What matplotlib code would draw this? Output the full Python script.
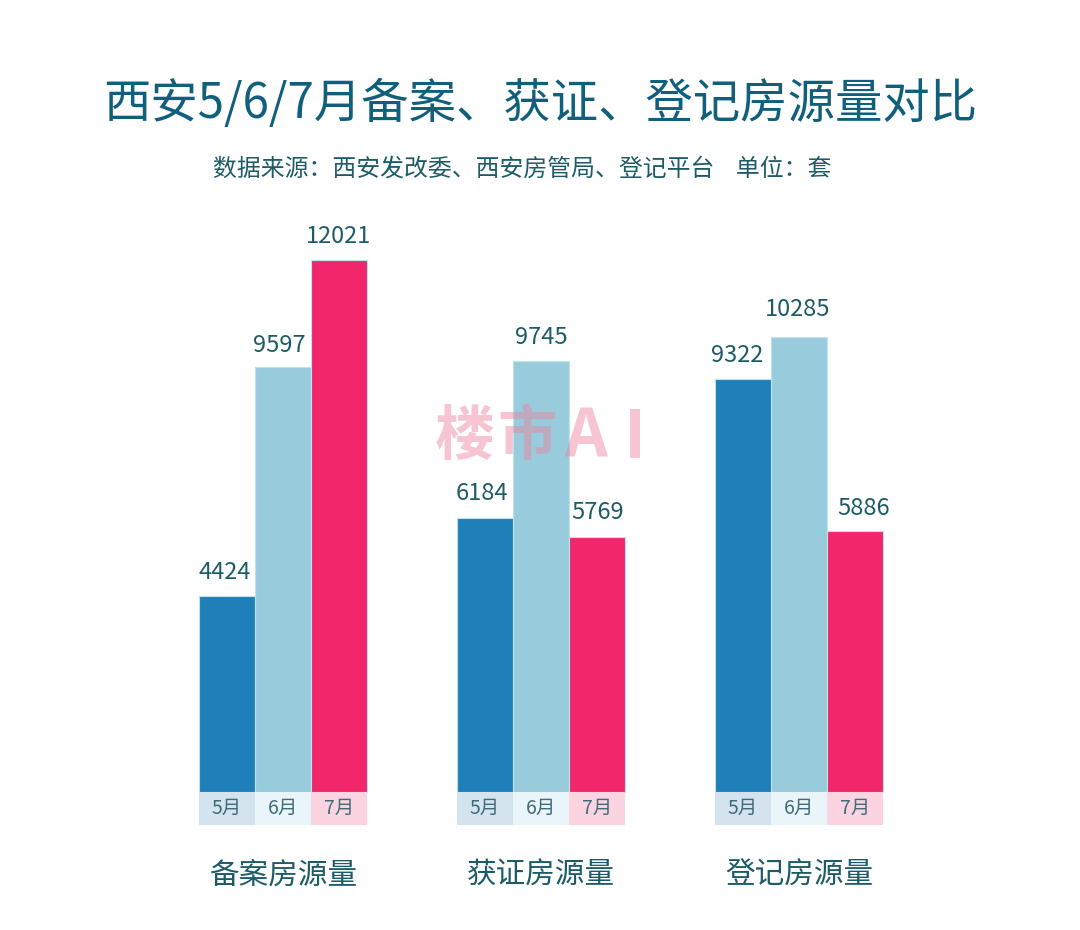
import matplotlib
import matplotlib.pyplot as plt

matplotlib.use("Agg")

plt.rcParams['font.family'] = ['Noto Sans CJK SC', 'DejaVu Sans']

# data
groups = ["备案房源量", "获证房源量", "登记房源量"]
months = ["5月", "6月", "7月"]
may = [4424, 6184, 9322]
june = [9597, 9745, 10285]
july = [12021, 5769, 5886]

bar_colors = ["#1f7fb8", "#98ccdd", "#f2266b"]
cell_colors = ["#d3e4ee", "#e9f5f8", "#fbd3e1"]
text_color = "#1d5c66"

bar_w = 56 / 258
cell_h = 745  # height of the month strip under the bars, in value units

# small label shifts in points, by month then group
label_dx = [[-1.5, -2, -4.5], [-3, 0, -1], [0, 0.5, 6]]
label_dy = [[9, 9.5, 9], [7.5, 8.5, 11], [8.5, 9, 8]]


def plot_bars():
    fig = plt.figure(figsize=(10.8, 9.3), dpi=100)
    ax = fig.add_axes([0, 0, 1, 1])
    ax.set_xlim(-283 / 258, (1080 - 283) / 258)
    ax.set_ylim(-3118, 17894)
    ax.axis("off")

    for m, vals in enumerate([may, june, july]):
        xs = [g + (m - 1) * bar_w for g in range(len(groups))]
        ax.bar(xs, vals, width=bar_w, color=bar_colors[m], edgecolor="#bfe3ee", linewidth=0.8)
        ax.bar(xs, [cell_h] * len(xs), bottom=-cell_h, width=bar_w, color=cell_colors[m])
        for g, (x, v) in enumerate(zip(xs, vals)):
            ax.annotate(str(v), (x, v), xytext=(label_dx[m][g], label_dy[m][g]), textcoords="offset points",
                        ha="center", va="bottom", fontsize=17, color=text_color)
            ax.annotate(months[m], (x, -cell_h / 2), ha="center", va="center",
                        fontsize=14, color="#3f6c78")

    for g, name in enumerate(groups):
        ax.annotate(name, (g, -cell_h), xytext=(0, -36), textcoords="offset points",
                    ha="center", va="center", fontsize=21.3, color=text_color)

    # watermark
    for ch, px, size in [("楼", 465, 43), ("市", 527, 43), ("A", 586, 48), ("I", 635, 48)]:
        fig.text(px / 1080, 1 - 438 / 930, ch, ha="center", va="center", fontsize=size,
                 fontweight="bold", color="#ee7f9a", alpha=0.45)

    fig.text(540 / 1080, 1 - 104 / 930, "西安5/6/7月备案、获证、登记房源量对比", ha="center", va="center",
             fontsize=34.1, color="#0f5f7d")
    fig.text(522 / 1080, 1 - 169 / 930, "数据来源：西安发改委、西安房管局、登记平台    单位：套", ha="center", va="center",
             fontsize=17.2, color=text_color)

    fig.savefig("out.png", dpi=100)


def main():
    plot_bars()


if __name__ == "__main__":
    main()
